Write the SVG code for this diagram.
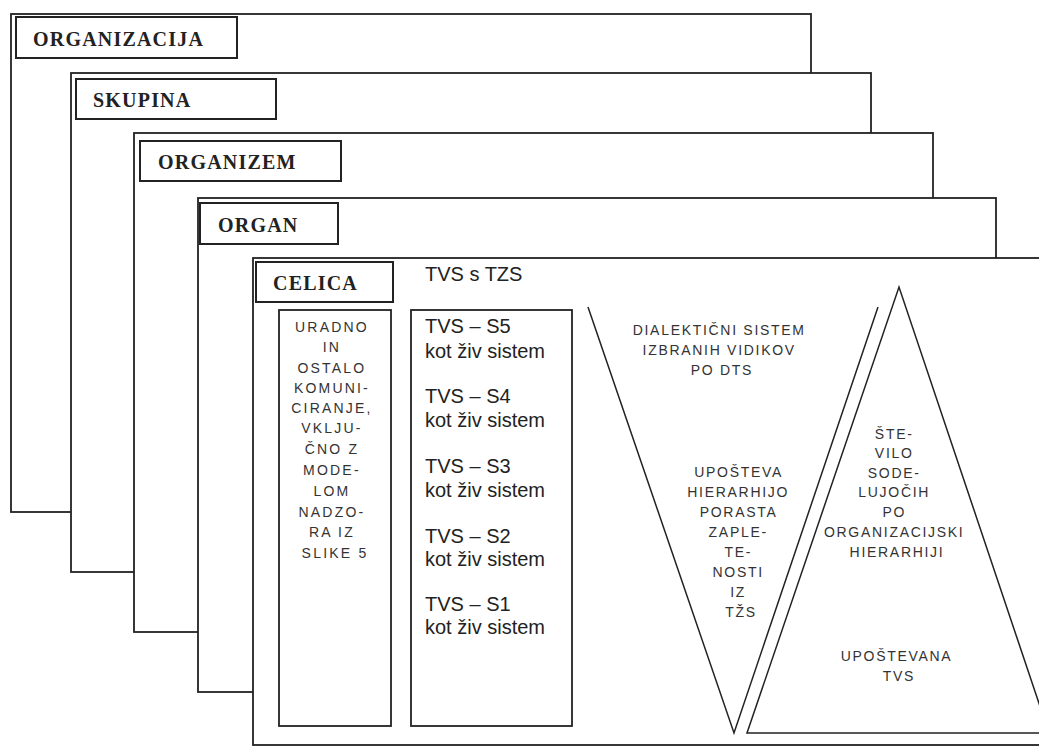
<svg xmlns="http://www.w3.org/2000/svg" width="1039" height="747" viewBox="0 0 1039 747">
<style>
.frame{fill:#fff;stroke:#222;stroke-width:1.8}
.lbl{fill:#fff;stroke:#222;stroke-width:2}
.title{font-family:"Liberation Serif",serif;font-weight:bold;font-size:20px;letter-spacing:1.2px;fill:#222}
.box{fill:#fff;stroke:#222;stroke-width:1.8}
.tvs{font-family:"Liberation Sans",sans-serif;font-size:20px;fill:#222}
.cap{font-family:"Liberation Sans",sans-serif;font-size:14px;letter-spacing:1.7px;fill:#333;text-anchor:middle}
.line{fill:none;stroke:#222;stroke-width:1.5}
</style>
<rect width="1039" height="747" fill="#fff"/>
<g id="organizacija">
<rect class="frame" x="11" y="14" width="800" height="498"/>
<rect class="lbl" x="16" y="17" width="221" height="41"/>
<text class="title" x="33" y="46">ORGANIZACIJA</text>
</g>
<g id="skupina">
<rect class="frame" x="71" y="73" width="800" height="499"/>
<rect class="lbl" x="76" y="79" width="200" height="40"/>
<text class="title" x="93" y="107">SKUPINA</text>
</g>
<g id="organizem">
<rect class="frame" x="134" y="133" width="799" height="499"/>
<rect class="lbl" x="140" y="141" width="201" height="40"/>
<text class="title" x="158" y="169">ORGANIZEM</text>
</g>
<g id="organ">
<rect class="frame" x="198" y="198" width="798" height="494"/>
<rect class="lbl" x="200" y="203" width="138" height="41"/>
<text class="title" x="218" y="232">ORGAN</text>
</g>
<g id="celica">
<rect class="frame" x="253" y="258" width="800" height="487"/>
<rect class="lbl" x="256" y="262" width="137" height="40"/>
<text class="title" x="273" y="290">CELICA</text>
<text class="tvs" x="425" y="281">TVS s TZS</text>
</g>
<g id="uradno">
<rect class="box" x="279" y="310" width="112" height="416"/>
<text class="cap" x="335" style="letter-spacing:2.2px">
<tspan x="335" y="332">URADNO</tspan>
<tspan x="335" y="352">IN</tspan>
<tspan x="335" y="373">OSTALO</tspan>
<tspan x="335" y="393">KOMUNI-</tspan>
<tspan x="335" y="413">CIRANJE,</tspan>
<tspan x="335" y="433">VKLJU-</tspan>
<tspan x="335" y="454">ČNO Z</tspan>
<tspan x="335" y="475">MODE-</tspan>
<tspan x="335" y="496">LOM</tspan>
<tspan x="335" y="517">NADZO-</tspan>
<tspan x="335" y="537">RA IZ</tspan>
<tspan x="335" y="558">SLIKE 5</tspan>
</text>
</g>
<g id="tvs-levels">
<rect class="box" x="411" y="310" width="161" height="416"/>
<text class="tvs">
<tspan x="425" y="333">TVS – S5</tspan>
<tspan x="425" y="358">kot živ sistem</tspan>
<tspan x="425" y="403">TVS – S4</tspan>
<tspan x="425" y="427">kot živ sistem</tspan>
<tspan x="425" y="473">TVS – S3</tspan>
<tspan x="425" y="497">kot živ sistem</tspan>
<tspan x="425" y="543">TVS – S2</tspan>
<tspan x="425" y="566">kot živ sistem</tspan>
<tspan x="425" y="611">TVS – S1</tspan>
<tspan x="425" y="634">kot živ sistem</tspan>
</text>
</g>
<g id="dialekticni">
<polyline class="line" points="588,307 734,733 878,307"/>
<text class="cap">
<tspan x="722" y="335">DIALEKTIČNI SISTEM</tspan>
<tspan x="722" y="355">IZBRANIH  VIDIKOV</tspan>
<tspan x="722" y="375">PO DTS</tspan>
</text>
<text class="cap">
<tspan x="741" y="477">UPOŠTEVA</tspan>
<tspan x="741" y="497">HIERARHIJO</tspan>
<tspan x="741" y="517">PORASTA</tspan>
<tspan x="741" y="537">ZAPLE-</tspan>
<tspan x="741" y="557">TE-</tspan>
<tspan x="741" y="577">NOSTI</tspan>
<tspan x="741" y="597">IZ</tspan>
<tspan x="741" y="617">TŽS</tspan>
</text>
</g>
<g id="stevilo">
<polyline class="line" points="1050,733 747,733 899,287 1050,736"/>
<text class="cap">
<tspan x="897" y="439">ŠTE-</tspan>
<tspan x="897" y="458">VILO</tspan>
<tspan x="897" y="478">SODE-</tspan>
<tspan x="897" y="497">LUJOČIH</tspan>
<tspan x="897" y="517">PO</tspan>
<tspan x="897" y="537">ORGANIZACIJSKI</tspan>
<tspan x="897" y="557">HIERARHIJI</tspan>
</text>
<text class="cap">
<tspan x="899" y="661">UPOŠTEVANA</tspan>
<tspan x="899" y="681">TVS</tspan>
</text>
</g>
<g id="connectors"></g>
</svg>
